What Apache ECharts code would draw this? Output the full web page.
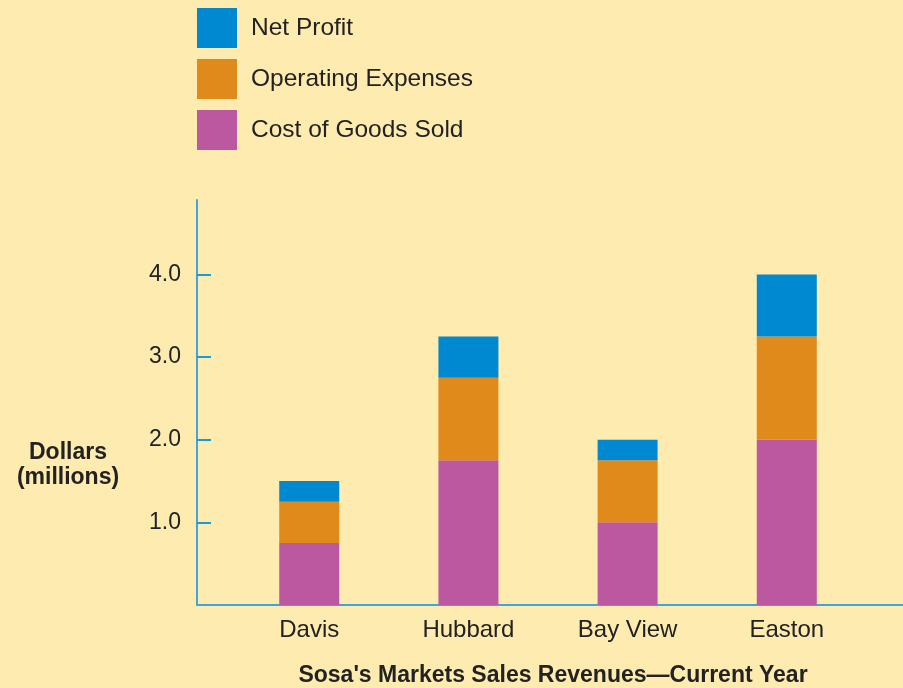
<!DOCTYPE html>
<html>
<head>
<meta charset="utf-8">
<script src="https://cdn.jsdelivr.net/npm/echarts@6/dist/echarts.min.js"></script>
<style>
  html, body { margin: 0; padding: 0; background: #feebb0; }
  #chart { width: 903px; height: 688px; }
</style>
</head>
<body>
<div id="chart"></div>
<script>
// stores along the bottom
const stores = ['Davis', 'Hubbard', 'Bay View', 'Easton']
// dollars, millions
const costOfGoods = [0.75, 1.75, 1.0, 2.0]
const operatingExpenses = [0.5, 1.0, 0.75, 1.25]
const netProfit = [0.25, 0.5, 0.25, 0.75]
const yTicks = [1, 2, 3, 4]

const font = '"Liberation Sans", Arial, sans-serif'
// value first so the stack lands on the value dim, store index second
const toPoints = (arr) => arr.map((v, i) => [v, i])

const chart = echarts.init(document.getElementById('chart'))

const barBase = {
  type: 'bar',
  stack: 'total',
  barWidth: 60,
  encode: { x: 1, y: 0 }
}

const options = {
  backgroundColor: '#feebb0',
  animation: false,
  title: [
    {
      text: 'Dollars\n(millions)',
      left: 63,
      top: 435,
      textAlign: 'center',
      textStyle: { fontFamily: font, fontSize: 23, fontWeight: 'bold', color: '#222', lineHeight: 25 }
    },
    {
      text: "Sosa's Markets Sales Revenues\u2014Current Year",
      left: 548,
      top: 659,
      textAlign: 'center',
      textStyle: { fontFamily: font, fontSize: 23, fontWeight: 'bold', color: '#222' }
    }
  ],
  legend: {
    orient: 'vertical',
    left: 197,
    top: 8,
    padding: 0,
    itemWidth: 40,
    itemHeight: 40,
    itemGap: 11,
    icon: 'rect',
    data: ['Net Profit', 'Operating Expenses', 'Cost of Goods Sold'],
    textStyle: { fontFamily: font, fontSize: 24.5, color: '#222', padding: [0, 0, 0, 9] }
  },
  grid: { left: 197, right: 0, top: 200, bottom: 83 },
  xAxis: {
    type: 'value',
    min: -0.705,
    max: 3.73,
    splitLine: { show: false },
    axisLine: { show: true, lineStyle: { color: '#3fa6dc', width: 2 } },
    axisTick: { show: false },
    axisLabel: {
      customValues: [0, 1, 2, 3],
      formatter: (v) => stores[Math.round(v)],
      margin: 13,
      fontFamily: font,
      fontSize: 24,
      color: '#222'
    }
  },
  yAxis: {
    type: 'value',
    min: 0,
    max: 4.9,
    splitLine: { show: false },
    axisLine: { show: true, onZero: false, lineStyle: { color: '#3fa6dc', width: 2 } },
    axisTick: {
      show: true,
      inside: true,
      length: 14,
      customValues: yTicks,
      lineStyle: { color: '#1a9ad8', width: 2 }
    },
    axisLabel: {
      customValues: yTicks,
      formatter: (v) => v.toFixed(1),
      margin: 16,
      fontFamily: font,
      fontSize: 23,
      color: '#222'
    }
  },
  series: [
    { ...barBase, name: 'Cost of Goods Sold', itemStyle: { color: '#bc58a0' }, data: toPoints(costOfGoods) },
    { ...barBase, name: 'Operating Expenses', itemStyle: { color: '#e08a1b' }, data: toPoints(operatingExpenses) },
    { ...barBase, name: 'Net Profit', itemStyle: { color: '#0089d0' }, data: toPoints(netProfit) }
  ]
}

chart.setOption(options)
</script>
</body>
</html>
